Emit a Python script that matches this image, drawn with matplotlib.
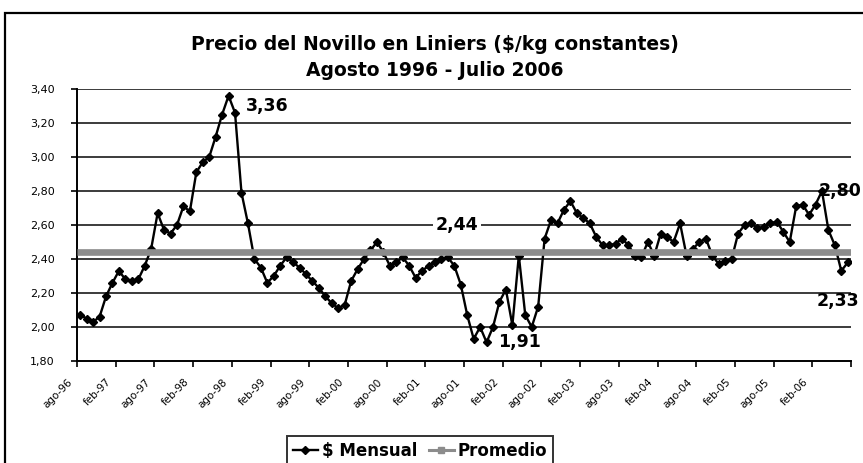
import matplotlib
matplotlib.use("Agg")
import matplotlib.pyplot as plt
from matplotlib.lines import Line2D
from matplotlib.patches import Rectangle
from matplotlib.transforms import ScaledTranslation
import numpy as np

# monthly steer price, ago-96 .. jul-06 ($/kg constantes)
mensual = [
    2.07, 2.05, 2.03, 2.06, 2.18, 2.26, 2.33, 2.28, 2.27, 2.28, 2.36, 2.46,
    2.67, 2.57, 2.55, 2.60, 2.71, 2.68, 2.91, 2.97, 3.00, 3.12, 3.25, 3.36,
    3.26, 2.79, 2.61, 2.40, 2.35, 2.26, 2.30, 2.36, 2.41, 2.38, 2.35, 2.31,
    2.27, 2.23, 2.18, 2.14, 2.11, 2.13, 2.27, 2.34, 2.40, 2.45, 2.50, 2.44,
    2.36, 2.38, 2.41, 2.36, 2.29, 2.33, 2.36, 2.38, 2.40, 2.41, 2.36, 2.25,
    2.07, 1.93, 2.00, 1.91, 2.00, 2.15, 2.22, 2.01, 2.42, 2.07, 2.00, 2.12,
    2.52, 2.63, 2.61, 2.69, 2.74, 2.67, 2.64, 2.61, 2.53, 2.48, 2.48, 2.49,
    2.52, 2.48, 2.42, 2.41, 2.50, 2.42, 2.55, 2.53, 2.50, 2.61, 2.42, 2.46,
    2.50, 2.52, 2.42, 2.37, 2.39, 2.40, 2.55, 2.60, 2.61, 2.58, 2.59, 2.61,
    2.62, 2.56, 2.50, 2.71, 2.72, 2.66, 2.72, 2.80, 2.57, 2.48, 2.33, 2.38,
]
promedio = 2.44

tick_labels = ['ago-96', 'feb-97', 'ago-97', 'feb-98', 'ago-98', 'feb-99',
               'ago-99', 'feb-00', 'ago-00', 'feb-01', 'ago-01', 'feb-02',
               'ago-02', 'feb-03', 'ago-03', 'feb-04', 'ago-04', 'feb-05',
               'ago-05', 'feb-06']

# labelled points: (month index, text)
etiquetas = [(23, '3,36'), (63, '1,91'), (115, '2,80'), (118, '2,33')]

n = len(mensual)
x = np.arange(n) + 0.5

fig = plt.figure(figsize=(8.63, 4.63), dpi=100)
ax = fig.add_axes([77 / 863, 1 - 361 / 463, 774 / 863, 272 / 463])

ax.set_xlim(0, n)
ax.set_ylim(1.8, 3.4)

for v in np.arange(2.0, 3.41, 0.2):
    ax.axhline(v, color='#1a1a1a', lw=1.2, zorder=1)

ax.plot(x, mensual, color='black', lw=1.7, marker='D', ms=4.0, zorder=3)
ax.plot([0, n], [promedio, promedio], color='#8c8c8c', lw=4.8,
        solid_capstyle='butt', zorder=4)

lbl_font = dict(family='DejaVu Sans', fontsize=12.5, fontweight='bold',
                color='black')
offsets = {23: (17, -10, 'left', 'center'),
           63: (11, 0, 'left', 'center'),
           115: (-3, 0, 'left', 'center'),
           118: (-3, -30, 'center', 'center')}
for i, txt in etiquetas:
    dx, dy, ha, va = offsets[i]
    ax.annotate(txt, (x[i], mensual[i]), xytext=(dx, dy),
                textcoords='offset pixels', ha=ha, va=va,
                zorder=2 if i == 115 else 6, annotation_clip=False, **lbl_font)

ax.annotate('2,44', (58.5, promedio), xytext=(3, 27), textcoords='offset pixels',
            ha='center', va='center', zorder=6,
            bbox=dict(boxstyle='square,pad=0.15', fc='white', ec='none'),
            **lbl_font)

for s in ['top', 'right']:
    ax.spines[s].set_visible(False)
for s in ['left', 'bottom']:
    ax.spines[s].set_linewidth(1.4)
    ax.spines[s].set_color('black')

ax.set_yticks(np.arange(1.8, 3.41, 0.2))
ax.set_yticklabels([f'{v:.2f}'.replace('.', ',') for v in np.arange(1.8, 3.41, 0.2)],
                   fontsize=8, family='DejaVu Sans')
ax.tick_params(axis='y', length=4, width=1.2, pad=12, direction='out')

ax.set_xticks(np.arange(0, n + 1, 6))
ax.set_xticklabels([])
ax.tick_params(axis='x', which='major', length=4, width=1.2, direction='out')
ax.set_xticks(x[::6], minor=True)
ax.set_xticklabels(tick_labels, minor=True, rotation=45, ha='right', va='center',
                   rotation_mode='anchor', fontsize=7.5, family='DejaVu Sans')
ax.tick_params(axis='x', which='minor', length=0, pad=14)
shift = ScaledTranslation(-9 / 100, 0, fig.dpi_scale_trans)
for lab in ax.get_xticklabels(minor=True):
    lab.set_transform(lab.get_transform() + shift)

fig.text(435 / 863, 1 - 44 / 463, 'Precio del Novillo en Liniers ($/kg constantes)',
         ha='center', va='center', fontsize=13.5, fontweight='bold',
         family='DejaVu Sans')
fig.text(435 / 863, 1 - 70 / 463, 'Agosto 1996 - Julio 2006',
         ha='center', va='center', fontsize=13.5, fontweight='bold',
         family='DejaVu Sans')

handles = [Line2D([], [], color='black', lw=1.7, marker='D', ms=4.5),
           Line2D([], [], color='#8c8c8c', lw=2.2, marker='s', ms=4.5)]
leg = fig.legend(handles, ['$ Mensual', 'Promedio'], loc='upper center',
                 bbox_to_anchor=(420 / 863, 1 - 428 / 463), ncol=2,
                 frameon=True, fancybox=False, handlelength=1.5,
                 handletextpad=0.25, columnspacing=0.7, borderpad=0.35,
                 prop=dict(family='DejaVu Sans', weight='bold', size=12))
leg.get_frame().set_edgecolor('black')
leg.get_frame().set_linewidth(1.4)

fig.add_artist(Rectangle((5 / 863, -0.1), 1.1, 1 - 13 / 463 + 0.1,
                         transform=fig.transFigure, fill=False,
                         ec='black', lw=1.6))

fig.savefig('out.png', dpi=100)
